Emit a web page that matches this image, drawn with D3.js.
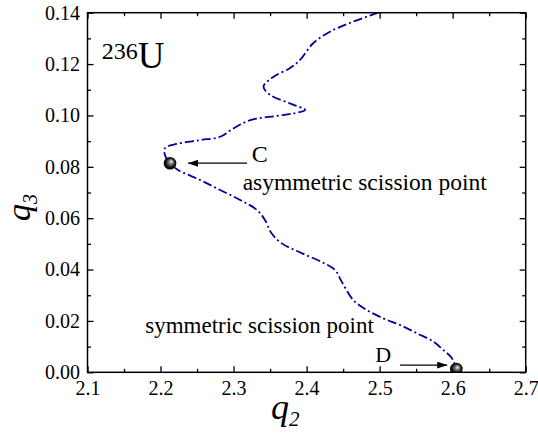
<!DOCTYPE html>
<html>
<head>
<meta charset="utf-8">
<script src="https://cdn.jsdelivr.net/npm/d3@7"></script>
<style>
    body { margin: 0; background: #fff; }
    svg { display: block; }
    text { font-family: "Liberation Serif", "Times New Roman", serif; fill: #000; }
</style>
</head>
<body>
<div id="chart"></div>
<script>
var q2Path = [2.498, 2.46, 2.432, 2.409, 2.391, 2.377, 2.355, 2.341, 2.35, 2.377,
    2.398, 2.382, 2.359, 2.323, 2.3, 2.2815, 2.254, 2.222, 2.206, 2.206,
    2.213, 2.224, 2.254, 2.2815, 2.309, 2.332, 2.343, 2.352, 2.366, 2.394,
    2.421, 2.439, 2.448, 2.464, 2.482, 2.505, 2.528, 2.551, 2.574, 2.587,
    2.599, 2.605];
var q3Path = [0.14, 0.1361, 0.1326, 0.1281, 0.1216, 0.1184, 0.1151, 0.1112, 0.108, 0.1047,
    0.1021, 0.1008, 0.0998, 0.0982, 0.095, 0.0917, 0.0904, 0.0889, 0.0872, 0.0846,
    0.0814, 0.0788, 0.0749, 0.071, 0.0671, 0.0632, 0.0593, 0.0541, 0.0502, 0.0463,
    0.0429, 0.0398, 0.0353, 0.0281, 0.0243, 0.021, 0.0184, 0.0152, 0.0119, 0.0087,
    0.0055, 0.0013];
var pointNames = ["C", "D"];
var pointQ2 = [2.213, 2.605];
var pointQ3 = [0.0814, 0.0013];
var xTicks = [2.1, 2.2, 2.3, 2.4, 2.5, 2.6, 2.7];
var xMinor = [2.15, 2.25, 2.35, 2.45, 2.55, 2.65];
var yTicks = [0, 0.02, 0.04, 0.06, 0.08, 0.10, 0.12, 0.14];
var yMinor = [0.01, 0.03, 0.05, 0.07, 0.09, 0.11, 0.13];

(function () {
    'use strict';
    var width = 538, height = 434,
        left = 87.5, right = 525.7, top = 12.7, bottom = 372.3,
        serif = "'Liberation Serif', 'Times New Roman', serif",
        svg, defs, grad, x, y, line, pts, plot, iso, xt, yt;

    x = d3.scaleLinear().domain([2.1, 2.7]).range([left, right]);
    y = d3.scaleLinear().domain([0, 0.14]).range([bottom, top]);

    svg = d3.select("#chart").append("svg")
        .attr("width", width)
        .attr("height", height)
        .attr("font-family", serif);

    defs = svg.append("defs");
    defs.append("clipPath").attr("id", "clip")
        .append("rect")
        .attr("x", left).attr("y", top)
        .attr("width", right - left).attr("height", bottom - top);

    grad = defs.append("radialGradient").attr("id", "ball")
        .attr("cx", "50%").attr("cy", "50%").attr("r", "50%")
        .attr("fx", "62%").attr("fy", "35%");
    grad.append("stop").attr("offset", "0%").attr("stop-color", "#f4f4f4");
    grad.append("stop").attr("offset", "35%").attr("stop-color", "#777");
    grad.append("stop").attr("offset", "75%").attr("stop-color", "#111");
    grad.append("stop").attr("offset", "100%").attr("stop-color", "#000");

    defs.append("marker").attr("id", "arrow")
        .attr("viewBox", "0 0 10 7")
        .attr("markerUnits", "userSpaceOnUse")
        .attr("markerWidth", 10).attr("markerHeight", 7)
        .attr("refX", 10).attr("refY", 3.5)
        .attr("orient", "auto")
        .append("path")
        .attr("d", "M0,0L10,3.5L0,7z")
        .attr("fill", "#000");

    function drawAxis(axis, tx, ty, labels) {
        var g = svg.append("g")
            .attr("transform", "translate(" + tx + "," + ty + ")")
            .call(axis)
            .attr("font-family", serif)
            .attr("font-size", 20);
        g.select(".domain").remove();
        g.selectAll(".tick line").attr("stroke", "#000").attr("stroke-width", 1.3);
        g.selectAll(".tick text")
            .style("font-family", serif)
            .style("font-size", "20px")
            .attr("fill", "#000");
        if (!labels) {
            g.selectAll(".tick text").remove();
        }
        return g;
    }

    // major and minor ticks, pointing inward on all four sides
    drawAxis(d3.axisBottom(x).tickValues(xTicks).tickFormat(d3.format(".1f"))
        .tickSizeInner(-6).tickSizeOuter(0).tickPadding(8.5), 0, bottom, true);
    drawAxis(d3.axisBottom(x).tickValues(xMinor).tickSizeInner(-3.5).tickSizeOuter(0), 0, bottom, false);
    drawAxis(d3.axisTop(x).tickValues(xTicks).tickSizeInner(-6).tickSizeOuter(0), 0, top, false);
    drawAxis(d3.axisTop(x).tickValues(xMinor).tickSizeInner(-3.5).tickSizeOuter(0), 0, top, false);
    drawAxis(d3.axisLeft(y).tickValues(yTicks).tickFormat(d3.format(".2f"))
        .tickSizeInner(-6).tickSizeOuter(0).tickPadding(7.5), left, 0, true);
    drawAxis(d3.axisLeft(y).tickValues(yMinor).tickSizeInner(-3.5).tickSizeOuter(0), left, 0, false);
    drawAxis(d3.axisRight(y).tickValues(yTicks).tickSizeInner(-6).tickSizeOuter(0), right, 0, false);
    drawAxis(d3.axisRight(y).tickValues(yMinor).tickSizeInner(-3.5).tickSizeOuter(0), right, 0, false);

    plot = svg.append("g").attr("clip-path", "url(#clip)");

    pts = q2Path.map(function (d, i) { return [d, q3Path[i]]; });
    line = d3.line()
        .x(function (d) { return x(d[0]); })
        .y(function (d) { return y(d[1]); })
        .curve(d3.curveCatmullRom.alpha(0.5));

    plot.append("path")
        .datum(pts)
        .attr("d", line)
        .attr("fill", "none")
        .attr("stroke", "#00009c")
        .attr("stroke-width", 1.8)
        .attr("stroke-dasharray", "9,3,2,3");

    plot.selectAll("circle")
        .data(pointNames)
        .enter()
        .append("circle")
        .attr("cx", function (d, i) { return x(pointQ2[i]); })
        .attr("cy", function (d, i) { return y(pointQ3[i]); })
        .attr("r", 6.3)
        .attr("fill", "url(#ball)");

    svg.append("rect")
        .attr("x", left).attr("y", top)
        .attr("width", right - left).attr("height", bottom - top)
        .attr("fill", "none")
        .attr("stroke", "#000")
        .attr("stroke-width", 1.5);

    // arrows to the scission points
    svg.append("line")
        .attr("x1", x(2.3185)).attr("y1", y(0.0814))
        .attr("x2", x(2.2377)).attr("y2", y(0.0814))
        .attr("stroke", "#000").attr("stroke-width", 1.3)
        .attr("marker-end", "url(#arrow)");
    svg.append("line")
        .attr("x1", x(2.528)).attr("y1", y(0.0028))
        .attr("x2", x(2.5925)).attr("y2", y(0.0028))
        .attr("stroke", "#000").attr("stroke-width", 1.3)
        .attr("marker-end", "url(#arrow)");

    svg.append("text")
        .attr("x", x(2.325)).attr("y", y(0.0817))
        .style("font-size", "24px")
        .text("C");
    svg.append("text")
        .attr("x", x(2.494)).attr("y", y(0.0041))
        .style("font-size", "22px")
        .text("D");
    svg.append("text")
        .attr("x", x(2.3125)).attr("y", y(0.0711))
        .style("font-size", "23.5px")
        .text("asymmetric scission point");
    svg.append("text")
        .attr("x", x(2.179)).attr("y", y(0.0153))
        .style("font-size", "23px")
        .text("symmetric scission point");

    iso = svg.append("text")
        .attr("x", x(2.1195)).attr("y", y(0.1184))
        .style("font-size", "37px");
    iso.append("tspan").attr("dy", "-9").style("font-size", "24px").text("236");
    iso.append("tspan").attr("dy", "9").text("U");

    xt = svg.append("text")
        .attr("x", 271).attr("y", 419)
        .style("font-size", "36px").style("font-style", "italic");
    xt.append("tspan").text("q");
    xt.append("tspan").attr("dy", "7").style("font-size", "21px").text("2");

    yt = svg.append("text")
        .attr("transform", "translate(30,221) rotate(-90)")
        .style("font-size", "34px").style("font-style", "italic");
    yt.append("tspan").text("q");
    yt.append("tspan").attr("dy", "7").style("font-size", "20px").text("3");
}());
</script>
</body>
</html>
